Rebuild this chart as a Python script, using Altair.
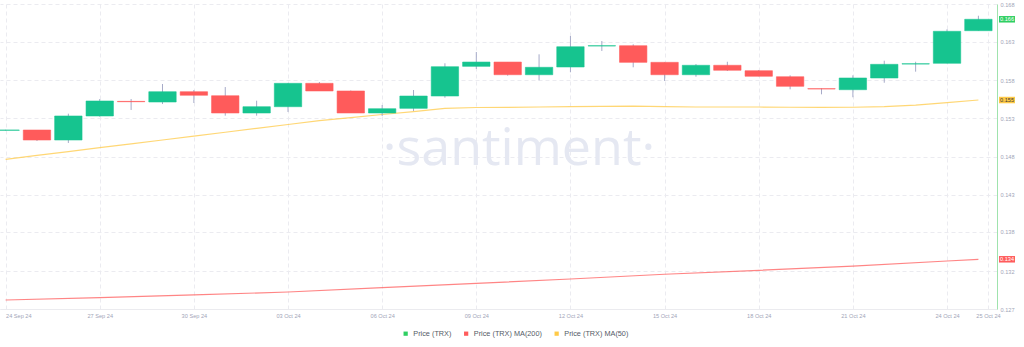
import altair as alt
import pandas as pd

# ---------------- data ----------------
candle_dates = [
    "2024-09-24", "2024-09-25", "2024-09-26", "2024-09-27", "2024-09-28", "2024-09-29",
    "2024-09-30", "2024-10-01", "2024-10-02", "2024-10-03", "2024-10-04", "2024-10-05",
    "2024-10-06", "2024-10-07", "2024-10-08", "2024-10-09", "2024-10-10", "2024-10-11",
    "2024-10-12", "2024-10-13", "2024-10-14", "2024-10-15", "2024-10-16", "2024-10-17",
    "2024-10-18", "2024-10-19", "2024-10-20", "2024-10-21", "2024-10-22", "2024-10-23",
    "2024-10-24", "2024-10-25",
]
opens = [0.15128, 0.15132, 0.14997, 0.15321, 0.15518, 0.15509, 0.15648, 0.15594,
         0.15361, 0.15446, 0.15761, 0.15658, 0.15361, 0.15424, 0.15590, 0.15990,
         0.16048, 0.15877, 0.15981, 0.16264, 0.16268, 0.16044, 0.15877, 0.16004,
         0.15931, 0.15850, 0.15689, 0.15675, 0.15833, 0.16021, 0.16031, 0.16470]
highs = [0.15135, 0.15132, 0.15352, 0.15550, 0.15550, 0.15752, 0.15671, 0.15711,
         0.15527, 0.15765, 0.15779, 0.15665, 0.15469, 0.15671, 0.16031, 0.16183,
         0.16048, 0.16152, 0.16399, 0.16331, 0.16287, 0.16044, 0.16021, 0.16052,
         0.15941, 0.15869, 0.15694, 0.15869, 0.16066, 0.16052, 0.16489, 0.16672]
lows = [0.15125, 0.14984, 0.14957, 0.15311, 0.15402, 0.15482, 0.15496, 0.15325,
        0.15325, 0.15375, 0.15658, 0.15361, 0.15321, 0.15388, 0.15567, 0.15954,
        0.15864, 0.15802, 0.15910, 0.16197, 0.15977, 0.15792, 0.15850, 0.15927,
        0.15856, 0.15680, 0.15613, 0.15573, 0.15769, 0.15918, 0.16031, 0.16470]
closes = [0.15132, 0.14997, 0.15321, 0.15523, 0.15513, 0.15648, 0.15600, 0.15361,
          0.15446, 0.15761, 0.15658, 0.15361, 0.15419, 0.15590, 0.15985, 0.16048,
          0.15877, 0.15977, 0.16254, 0.16268, 0.16044, 0.15877, 0.16004, 0.15937,
          0.15856, 0.15721, 0.15685, 0.15833, 0.16017, 0.16025, 0.16462, 0.16624]

ma50 = [0.14737, 0.14790, 0.14841, 0.14894, 0.14946, 0.14997, 0.15050, 0.15102,
        0.15155, 0.15206, 0.15259, 0.15300, 0.15341, 0.15381, 0.15424, 0.15435,
        0.15438, 0.15442, 0.15446, 0.15450, 0.15453, 0.15446, 0.15442, 0.15442,
        0.15442, 0.15439, 0.15438, 0.15439, 0.15447, 0.15466, 0.15501, 0.15536]

ma200_dates = ["2024-09-24", "2024-09-27", "2024-09-30", "2024-10-03", "2024-10-06",
               "2024-10-09", "2024-10-12", "2024-10-15", "2024-10-18", "2024-10-21",
               "2024-10-24", "2024-10-25"]
ma200 = [0.12841, 0.12872, 0.12909, 0.12949, 0.13007, 0.13066, 0.13124, 0.13188,
         0.13241, 0.13299, 0.13367, 0.13390]

series_names = ["Price (TRX)", "Price (TRX) MA(200)", "Price (TRX) MA(50)"]
series_colors = ["#2fcf62", "#ff5c5c", "#ffca47"]

x_tick_dates = [(2024, 9, 24), (2024, 9, 27), (2024, 9, 30), (2024, 10, 3), (2024, 10, 6),
                (2024, 10, 9), (2024, 10, 12), (2024, 10, 15), (2024, 10, 18),
                (2024, 10, 21), (2024, 10, 24)]
x_last_label = (2024, 10, 25, 7, 20)
y_ticks = [0.1272, 0.1323, 0.1376, 0.1426, 0.1477, 0.1529, 0.1580, 0.1632, 0.1683]
y_domain = [0.1272, 0.1683]
x_domain_start = (2024, 9, 23, 23, 33)
x_domain_end = (2024, 10, 25, 10, 24)

badge_values = [closes[-1], ma50[-1], ma200[-1]]
badge_fill = ["#2fcf62", "#ffca47", "#ff5c5c"]
badge_text = ["#ffffff", "#3a3a3a", "#ffffff"]

GREEN = "#16c48f"
RED = "#ff5b5b"
WICK = "#a6abc8"
W, H = 997, 305
FONT = "Liberation Sans"


def dt(t):
    return alt.DateTime(year=t[0], month=t[1], date=t[2],
                        hours=t[3] if len(t) > 3 else 0,
                        minutes=t[4] if len(t) > 4 else 0, utc=True)


candles = pd.DataFrame({
    "date": [d + "T00:00:00Z" for d in candle_dates],
    "open": opens, "high": highs, "low": lows, "close": closes,
})
lines = pd.concat([
    pd.DataFrame({"date": [d + "T00:00:00Z" for d in candle_dates], "value": ma50,
                  "series": series_names[2]}),
    pd.DataFrame({"date": [d + "T00:00:00Z" for d in ma200_dates], "value": ma200,
                  "series": series_names[1]}),
])
legend_df = pd.DataFrame({"series": series_names,
                          "date": [candle_dates[-1] + "T00:00:00Z"] * 3,
                          "value": [closes[-1], ma200[-1], ma50[-1]]})
badges = pd.DataFrame({"value": badge_values, "fill": badge_fill, "tcol": badge_text,
                       "label": [f"{v:.3f}" for v in badge_values],
                       "date": [candle_dates[-1] + "T00:00:00Z"] * 3})

x_scale = alt.Scale(type="utc", domain=[dt(x_domain_start), dt(x_domain_end)])
y_scale = alt.Scale(domain=y_domain, zero=False, nice=False)

first = x_tick_dates[0]
x_axis = alt.Axis(
    values=[dt(t) for t in x_tick_dates] + [dt(x_last_label)],
    labelExpr="utcFormat(datum.value, '%d %b %y')",
    labelAlign={"condition": {
        "test": f"datum.value < utc({first[0]}, {first[1] - 1}, {first[2]}, 12)",
        "value": "left"}, "value": "center"},
    title=None, ticks=False,
    labelFontSize=5.6, labelColor="#9fa5b8", labelFont=FONT, labelPadding=4,
    labelOverlap=False, domainColor="#ebebef", domainWidth=1,
    gridColor="#ebebf0", gridDash=[4, 3], gridWidth=1,
)
y_axis = alt.Axis(
    orient="right", values=y_ticks, format=".3f", title=None, ticks=False,
    labelFontSize=5.6, labelColor="#9fa5b8", labelFont=FONT, labelPadding=3,
    labelOverlap=False, domainColor="#9fe3ad", domainWidth=1,
    gridColor="#ebebf0", gridDash=[4, 3], gridWidth=1,
)


def X(field="date:T"):
    return alt.X(field, scale=x_scale, axis=x_axis)


def Y(field):
    return alt.Y(field, scale=y_scale, axis=y_axis)


watermark = alt.Chart(pd.DataFrame({"t": ["·santiment·"]})).mark_text(
    fontSize=52, font="Open Sans", color="#e5e8f2", baseline="alphabetic", align="center"
).encode(text="t:N", x=alt.value(519), y=alt.value(161))

ma_lines = alt.Chart(lines).mark_line(strokeWidth=1.2, strokeOpacity=0.75, clip=True).encode(
    x=X(),
    y=Y("value:Q"),
    stroke=alt.Stroke("series:N", scale=alt.Scale(domain=series_names, range=series_colors),
                      legend=None),
    detail="series:N",
)

legend_layer = alt.Chart(legend_df).mark_square(opacity=0, size=1).encode(
    x=X(),
    y=Y("value:Q"),
    fill=alt.Fill("series:N", scale=alt.Scale(domain=series_names, range=series_colors),
                  legend=alt.Legend(orient="none", legendX=402, legendY=326,
                                    direction="horizontal", title=None,
                                    symbolType="square", symbolSize=18, symbolOpacity=1,
                                    symbolStrokeWidth=0, labelFontSize=7.3,
                                    labelColor="#555a66", labelFont=FONT,
                                    labelOffset=4, columnPadding=10.5, padding=0)),
)

wicks = alt.Chart(candles).mark_rule(color=WICK, strokeWidth=1, clip=True).encode(
    x=X(),
    y=Y("low:Q"),
    y2="high:Q",
)

up = "datum.close >= datum.open"
bodies = alt.Chart(candles).mark_bar(width=27.4, strokeWidth=1, strokeOpacity=0.55,
                                     clip=True).encode(
    x=X(),
    y=Y("open:Q"),
    y2="close:Q",
    fill=alt.condition(up, alt.value(GREEN), alt.value(RED)),
    stroke=alt.condition(up, alt.value(GREEN), alt.value(RED)),
)

badge_rects = alt.Chart(badges).mark_rect(height=6.5).encode(
    x=alt.value(W + 2), x2=alt.value(W + 18),
    y=Y("value:Q"),
    fill=alt.Fill("fill:N", scale=None),
)
badge_labels = alt.Chart(badges).mark_text(fontSize=5.6, font=FONT, align="center",
                                           baseline="middle").encode(
    x=alt.value(W + 10), y=Y("value:Q"),
    text="label:N", color=alt.Color("tcol:N", scale=None),
)

chart = alt.layer(
    watermark, ma_lines, legend_layer, wicks, bodies, badge_rects, badge_labels
).resolve_scale(fill="independent").properties(
    width=W, height=H,
    autosize=alt.AutoSizeParams(type="none"),
    padding={"left": 0, "top": 4, "right": 27, "bottom": 38},
    background="#ffffff",
).configure_view(stroke=None)

chart.save("out.html", embed_options={"renderer": "svg", "actions": False})
